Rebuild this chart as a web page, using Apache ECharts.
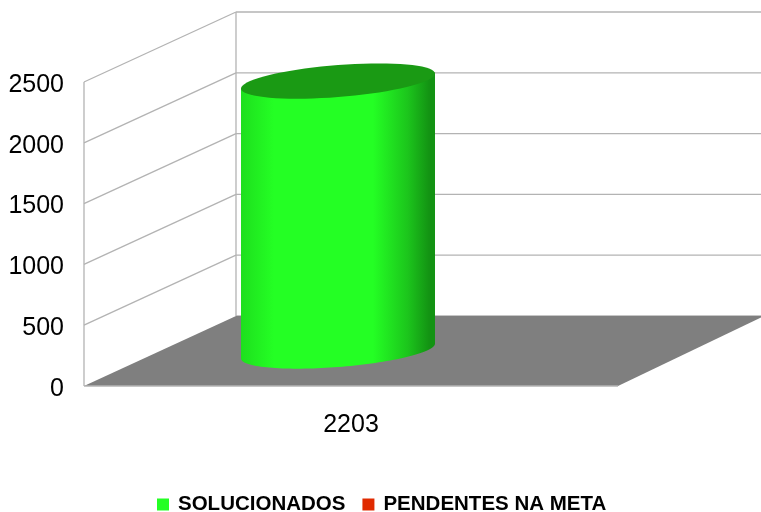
<!DOCTYPE html>
<html lang="en">

<head>
    <meta charset="utf-8">
    <title>SOLUCIONADOS / PENDENTES NA META</title>
    <script src="https://cdn.jsdelivr.net/npm/echarts@6/dist/echarts.min.js"></script>
</head>

<body style="margin: 0; background: #fff">
    <div id="main" style="width: 761px; height: 512px"></div>

    <script>
        // data
        const categories = ['2203'];
        const solucionados = [2220];
        const pendentes = [0];
        const yTicks = [0, 500, 1000, 1500, 2000, 2500];

        const FONT = '"Liberation Sans", Arial, sans-serif';
        // fake 3D: how far the back wall sits from the front plane
        const DEPTH_X = 152;
        const DEPTH_Y = -70;
        const BACK_RIGHT = 764;
        const LINE = '#b3b3b3';

        const myChart = echarts.init(document.getElementById('main'), null, { renderer: 'canvas' });

        function line(x1, y1, x2, y2) {
            return {
                type: 'line',
                shape: { x1, y1, x2, y2 },
                style: { stroke: LINE, lineWidth: 1.3 },
                silent: true
            };
        }

        // floor and walls
        function renderWalls(params, api) {
            const sys = params.coordSys;
            const left = sys.x;
            const right = sys.x + sys.width;
            const bottom = sys.y + sys.height;
            const backLeft = left + DEPTH_X;
            const children = [];

            yTicks.forEach(function (t) {
                const y = api.coord([0, t])[1];
                if (t > 0) {
                    children.push(line(left, y, backLeft, y + DEPTH_Y));
                }
                children.push(line(backLeft, y + DEPTH_Y, BACK_RIGHT, y + DEPTH_Y));
            });
            const topY = api.coord([0, yTicks[yTicks.length - 1]])[1];
            children.push(line(left, topY, left, bottom));
            children.push(line(backLeft, topY + DEPTH_Y, backLeft, bottom + DEPTH_Y));
            children.push({
                type: 'polygon',
                shape: {
                    points: [
                        [left, bottom],
                        [right, bottom],
                        [BACK_RIGHT, bottom + DEPTH_Y],
                        [backLeft, bottom + DEPTH_Y]
                    ]
                },
                style: { fill: '#7f7f7f' },
                silent: true
            });
            children.push(line(left, bottom, right, bottom));
            return { type: 'group', children };
        }

        // tilted ellipse outline between two angles
        function ellipse(cx, cy, rx, tilt, ry, from, to) {
            const pts = [];
            for (let i = 0; i <= 72; i++) {
                const a = from + (to - from) * i / 72;
                pts.push([cx + rx * Math.cos(a), cy - tilt * Math.cos(a) + ry * Math.sin(a)]);
            }
            return pts;
        }

        function renderCylinder(params, api) {
            const value = api.value(1);
            if (!value) return null;
            const base = api.coord([api.value(0), 0]);
            const top = api.coord([api.value(0), value]);
            // first of two slots in the band, standing half way into the depth
            const cx = base[0] - api.size([1, 0])[0] / 6 + DEPTH_X / 2;
            const rx = 97;
            const tilt = 7.5;
            const ry = 16;
            const baseY = base[1] + DEPTH_Y / 2;
            const topY = top[1] + DEPTH_Y / 2;

            const front = ellipse(cx, baseY, rx, tilt, ry, 0, Math.PI);
            const body = [[cx + rx, topY - tilt]].concat(front, [[cx - rx, topY + tilt]]);
            return {
                type: 'group',
                children: [
                    {
                        type: 'polygon',
                        shape: { points: body },
                        style: {
                            fill: new echarts.graphic.LinearGradient(0, 0, 1, 0, [
                                { offset: 0, color: '#1edf1e' },
                                { offset: 0.17, color: '#24ff24' },
                                { offset: 0.68, color: '#24ff24' },
                                { offset: 0.86, color: '#1cc51c' },
                                { offset: 0.97, color: '#139313' },
                                { offset: 1, color: '#139313' }
                            ])
                        }
                    },
                    {
                        type: 'polygon',
                        shape: { points: ellipse(cx, topY, rx, tilt, ry, 0, Math.PI * 2) },
                        style: { fill: '#1a9a14' }
                    }
                ]
            };
        }

        const option = {
            animation: false,
            backgroundColor: '#fff',
            textStyle: { fontFamily: FONT },
            grid: { left: 84, right: 143, top: 82, bottom: 126 },
            legend: {
                data: ['SOLUCIONADOS', 'PENDENTES NA META'],
                left: 157,
                top: 494,
                padding: 0,
                icon: 'rect',
                itemWidth: 12,
                itemHeight: 12,
                itemGap: 17,
                textStyle: {
                    fontFamily: FONT,
                    fontSize: 20.5,
                    fontWeight: 'bold',
                    color: '#000',
                    padding: [0, 0, 0, 4]
                }
            },
            xAxis: {
                type: 'category',
                data: categories,
                axisLine: { show: false },
                axisTick: { show: false },
                axisLabel: { fontFamily: FONT, fontSize: 25, color: '#000', margin: 27 }
            },
            yAxis: {
                type: 'value',
                min: 0,
                max: 2500,
                interval: 500,
                axisLine: { show: false },
                axisTick: { show: false },
                splitLine: { show: false },
                axisLabel: {
                    fontFamily: FONT,
                    fontSize: 25,
                    color: '#000',
                    margin: 20,
                    verticalAlign: 'top',
                    lineHeight: 6,
                    formatter: function (v) { return String(v); }
                }
            },
            series: [
                {
                    name: 'walls',
                    type: 'custom',
                    renderItem: renderWalls,
                    data: [[0, 0]],
                    encode: { x: 0, y: 1 },
                    silent: true,
                    z: 1
                },
                {
                    name: 'SOLUCIONADOS',
                    type: 'custom',
                    renderItem: renderCylinder,
                    data: categories.map((c, i) => [i, solucionados[i]]),
                    encode: { x: 0, y: 1 },
                    itemStyle: { color: '#24ff24' },
                    z: 3
                },
                {
                    name: 'PENDENTES NA META',
                    type: 'custom',
                    renderItem: renderCylinder,
                    data: categories.map((c, i) => [i, pendentes[i]]),
                    encode: { x: 0, y: 1 },
                    itemStyle: { color: '#e02a00' },
                    z: 3
                }
            ]
        };

        myChart.setOption(option);
    </script>
</body>

</html>
